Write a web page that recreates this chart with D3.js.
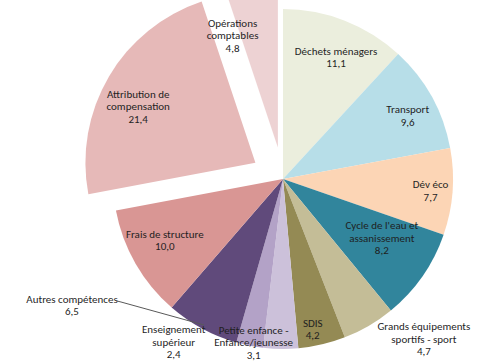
<!DOCTYPE html>
<html>
<head>
<meta charset="utf-8">
<script src="https://cdn.jsdelivr.net/npm/d3@7"></script>
<style>
  body { margin: 0; background: #fff; }
  svg { display: block; }
  .lbl { font-family: Carlito, Calibri, Lato, sans-serif; font-size: 11px; fill: #1f1f1f; }
</style>
</head>
<body>
<div id="chart"></div>
<script>
// data, in clockwise order starting from 12 o'clock
var names = [
  "Déchets ménagers", "Transport", "Dév éco", "Cycle de l'eau et assanissement",
  "Grands équipements sportifs - sport", "SDIS", "Petite enfance - Enfance/jeunesse",
  "Enseignement supérieur", "Autres compétences", "Frais de structure",
  "Attribution de compensation", "Opérations comptables"
];
var values = [11.1, 9.6, 7.7, 8.2, 4.7, 4.2, 3.1, 2.4, 6.5, 10.0, 21.4, 4.8];
var labelLines = [
  ["Déchets ménagers"], ["Transport"], ["Dév éco"], ["Cycle de l'eau et", "assanissement"],
  ["Grands équipements", "sportifs - sport"], ["SDIS"], ["Petite enfance -", "Enfance/jeunesse"],
  ["Enseignement", "supérieur"], ["Autres compétences"], ["Frais de structure"],
  ["Attribution de", "compensation"], ["Opérations", "comptables"]
];
var exploded = ["Attribution de compensation", "Opérations comptables"];

var colors = ["#EBEEDD", "#B7DEE8", "#FCD5B5", "#31859C", "#C4BD97", "#948A54",
              "#CCC1DA", "#B3A2C7", "#604A7B", "#D99694", "#E6B9B8", "#EDD2D3"];

var width = 504, height = 362;
var cx = 283, cy = 179, radius = 170, explode = 32;

// label placement: [angle in degrees, distance from slice centre]
var labelPlace = [
  [23.5, 133], [63, 140], [94.6, 148], [120.8, 115],
  [138.6, 213], [168.8, 153], [190.2, 166], [213.9, 196],
  null, [242.7, 133], [295.6, 130], [338, 121]
];

var svg = d3.select("#chart").append("svg")
    .attr("width", width)
    .attr("height", height);

var g = svg.append("g")
    .attr("transform", "translate(" + cx + "," + cy + ")");

var pie = d3.pie().sort(null).value(function (d) { return d; });
var arcs = pie(values);

var arc = d3.arc().innerRadius(0).outerRadius(radius);

function offsetOf(i) {
  if (exploded.indexOf(names[i]) < 0) return [0, 0];
  var a = (arcs[i].startAngle + arcs[i].endAngle) / 2;
  return [explode * Math.sin(a), -explode * Math.cos(a)];
}

var slices = g.selectAll(".slice").data(arcs)
  .enter().append("g")
    .attr("class", "slice")
    .attr("transform", function (d, i) {
      var o = offsetOf(i);
      return "translate(" + o[0] + "," + o[1] + ")";
    });

slices.append("path")
    .attr("d", arc)
    .style("fill", function (d, i) { return colors[i]; })
    .style("stroke", "none");

var lineH = 12.5;

function addLabel(i, x, y, anchor) {
  var lines = labelLines[i].concat([d3.format(".1f")(values[i]).replace(".", ",")]);
  var t = g.append("text")
      .attr("class", "lbl")
      .attr("text-anchor", anchor || "middle");
  var y0 = y - (lines.length - 1) * lineH / 2;
  lines.forEach(function (s, k) {
    t.append("tspan")
      .attr("x", x)
      .attr("y", y0 + k * lineH)
      .attr("dy", "0.35em")
      .text(s);
  });
}

arcs.forEach(function (d, i) {
  var p = labelPlace[i];
  if (!p) return;
  var o = offsetOf(i);
  var a = p[0] * Math.PI / 180;
  addLabel(i, o[0] + p[1] * Math.sin(a), o[1] - p[1] * Math.cos(a));
});

// "Autres compétences" sits outside the pie with a leader line
var iAutres = names.indexOf("Autres compétences");
var aMid = (arcs[iAutres].startAngle + arcs[iAutres].endAngle) / 2;
var lx = 72 - cx, ly = 305 - cy;
addLabel(iAutres, lx, ly);
g.append("polyline")
    .attr("points", [
      [lx + 45, ly - 4],
      [lx + 49, ly - 3],
      [(radius - 4) * Math.sin(aMid), -(radius - 4) * Math.cos(aMid)]
    ].map(function (p) { return p.join(","); }).join(" "))
    .style("fill", "none")
    .style("stroke", "#595959")
    .style("stroke-width", 1);
</script>
</body>
</html>
